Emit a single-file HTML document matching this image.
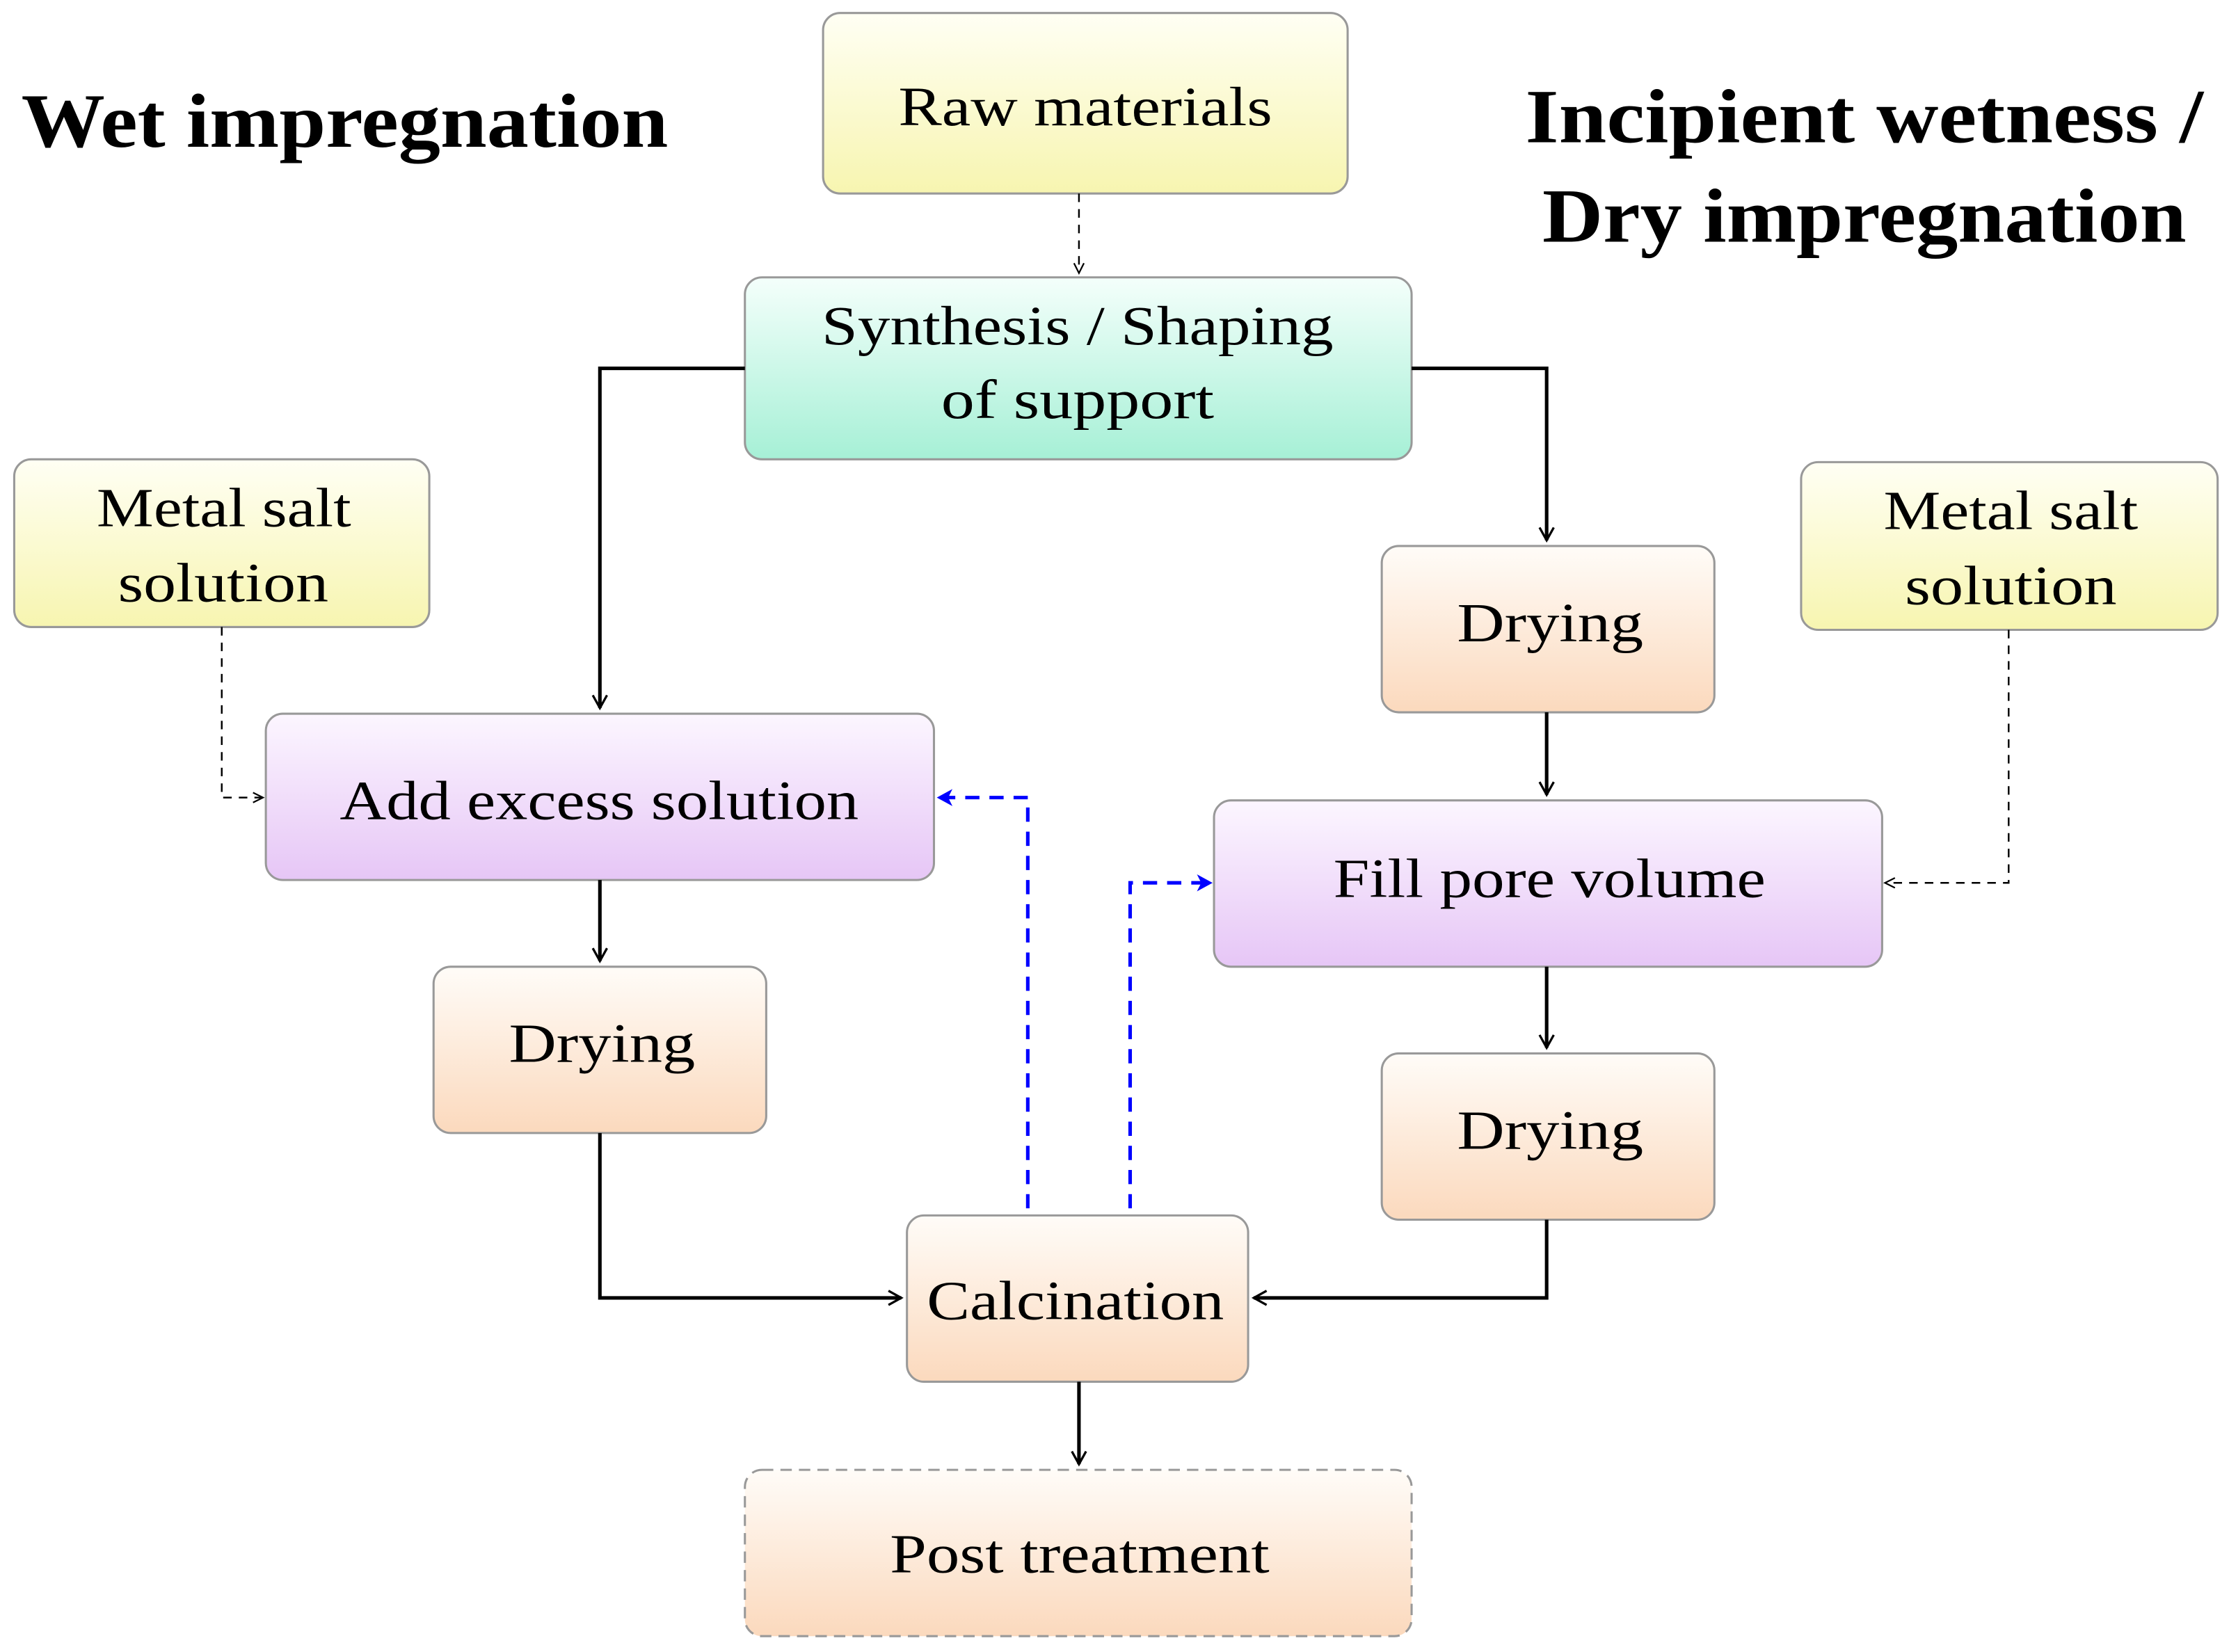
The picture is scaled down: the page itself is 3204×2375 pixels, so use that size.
<!DOCTYPE html>
<html><head><meta charset="utf-8"><style>
html,body{margin:0;padding:0;background:#fff;}
svg{display:block;}
text{font-family:"Liberation Serif",serif;fill:#000;}
</style></head><body>
<svg width="3204" height="2375" viewBox="0 0 1568 1162" xmlns="http://www.w3.org/2000/svg">
<defs>
<linearGradient id="gy" x1="0" y1="0" x2="0" y2="1"><stop offset="0" stop-color="#fffff4"/><stop offset="1" stop-color="#f7f5b0"/></linearGradient>
<linearGradient id="gt" x1="0" y1="0" x2="0" y2="1"><stop offset="0" stop-color="#f4fffb"/><stop offset="1" stop-color="#a6f0d6"/></linearGradient>
<linearGradient id="gp" x1="0" y1="0" x2="0" y2="1"><stop offset="0" stop-color="#fcf6ff"/><stop offset="1" stop-color="#e6c6f6"/></linearGradient>
<linearGradient id="go" x1="0" y1="0" x2="0" y2="1"><stop offset="0" stop-color="#fffcf8"/><stop offset="1" stop-color="#fbd9bd"/></linearGradient>
<marker id="ak" markerWidth="12" markerHeight="12" refX="10" refY="6" orient="auto" markerUnits="userSpaceOnUse"><path d="M1,1 L10,6 L1,11" fill="none" stroke="#000" stroke-width="1.6"/></marker>
<marker id="as" markerWidth="10" markerHeight="10" refX="8" refY="5" orient="auto" markerUnits="userSpaceOnUse"><path d="M1,1.5 L8,5 L1,8.5" fill="none" stroke="#000" stroke-width="1.1"/></marker>
<marker id="ab" markerWidth="14" markerHeight="14" refX="11" refY="7" orient="auto" markerUnits="userSpaceOnUse"><path d="M1,1 L12,7 L1,13 L4,7 Z" fill="#0000ff"/></marker>
</defs>
<g stroke="#999" stroke-width="1.5">
<rect x="579" y="9" width="369" height="127" rx="12" fill="url(#gy)"/>
<rect x="524" y="195" width="469" height="128" rx="12" fill="url(#gt)"/>
<rect x="10" y="323" width="292" height="118" rx="12" fill="url(#gy)"/>
<rect x="1267" y="325" width="293" height="118" rx="12" fill="url(#gy)"/>
<rect x="972" y="384" width="234" height="117" rx="12" fill="url(#go)"/>
<rect x="187" y="502" width="470" height="117" rx="12" fill="url(#gp)"/>
<rect x="854" y="563" width="470" height="117" rx="12" fill="url(#gp)"/>
<rect x="305" y="680" width="234" height="117" rx="12" fill="url(#go)"/>
<rect x="972" y="741" width="234" height="117" rx="12" fill="url(#go)"/>
<rect x="638" y="855" width="240" height="117" rx="12" fill="url(#go)"/>
<rect x="524" y="1034" width="469" height="117" rx="12" fill="url(#go)" stroke-dasharray="8,5"/>
</g>
<g fill="none" stroke="#000" stroke-width="2.5">
<path d="M524,259 H422 V498" marker-end="url(#ak)"/>
<path d="M993,259 H1088 V380" marker-end="url(#ak)"/>
<path d="M1088,501 V559" marker-end="url(#ak)"/>
<path d="M1088,680 V737" marker-end="url(#ak)"/>
<path d="M1088,858 V913 H882" marker-end="url(#ak)"/>
<path d="M422,619 V676" marker-end="url(#ak)"/>
<path d="M422,797 V913 H634" marker-end="url(#ak)"/>
<path d="M759,972 V1030" marker-end="url(#ak)"/>
</g>
<g fill="none" stroke="#000" stroke-width="1.2" stroke-dasharray="6,5">
<path d="M759,136 V192" marker-end="url(#as)"/>
<path d="M156,441 V561 H185" marker-end="url(#as)"/>
<path d="M1413,443 V621 H1326" marker-end="url(#as)"/>
</g>
<g fill="none" stroke="#0000ff" stroke-width="2.5" stroke-dasharray="10,7">
<path d="M723,850 V561 H660" marker-end="url(#ab)"/>
<path d="M795,850 V621 H852" marker-end="url(#ab)"/>
</g>
<g font-size="39" lengthAdjust="spacingAndGlyphs">
<text x="632" y="88" textLength="263" lengthAdjust="spacingAndGlyphs">Raw materials</text>
<text x="578" y="242" textLength="360" lengthAdjust="spacingAndGlyphs">Synthesis / Shaping</text>
<text x="662" y="294" textLength="192" lengthAdjust="spacingAndGlyphs">of support</text>
<text x="68" y="370" textLength="179" lengthAdjust="spacingAndGlyphs">Metal salt</text>
<text x="83" y="423" textLength="148" lengthAdjust="spacingAndGlyphs">solution</text>
<text x="1325" y="372" textLength="179" lengthAdjust="spacingAndGlyphs">Metal salt</text>
<text x="1340" y="425" textLength="149" lengthAdjust="spacingAndGlyphs">solution</text>
<text x="1025" y="451" textLength="131" lengthAdjust="spacingAndGlyphs">Drying</text>
<text x="239" y="576" textLength="365" lengthAdjust="spacingAndGlyphs">Add excess solution</text>
<text x="938" y="631" textLength="304" lengthAdjust="spacingAndGlyphs">Fill pore volume</text>
<text x="358" y="747" textLength="131" lengthAdjust="spacingAndGlyphs">Drying</text>
<text x="1025" y="808" textLength="131" lengthAdjust="spacingAndGlyphs">Drying</text>
<text x="652" y="928" textLength="209" lengthAdjust="spacingAndGlyphs">Calcination</text>
<text x="626" y="1106" textLength="267" lengthAdjust="spacingAndGlyphs">Post treatment</text>
</g>
<g font-size="54" font-weight="bold">
<text x="15" y="103" textLength="455" lengthAdjust="spacingAndGlyphs">Wet impregnation</text>
<text x="1073" y="100" textLength="477" lengthAdjust="spacingAndGlyphs">Incipient wetness /</text>
<text x="1085" y="170" textLength="453" lengthAdjust="spacingAndGlyphs">Dry impregnation</text>
</g>
</svg>
</body></html>
